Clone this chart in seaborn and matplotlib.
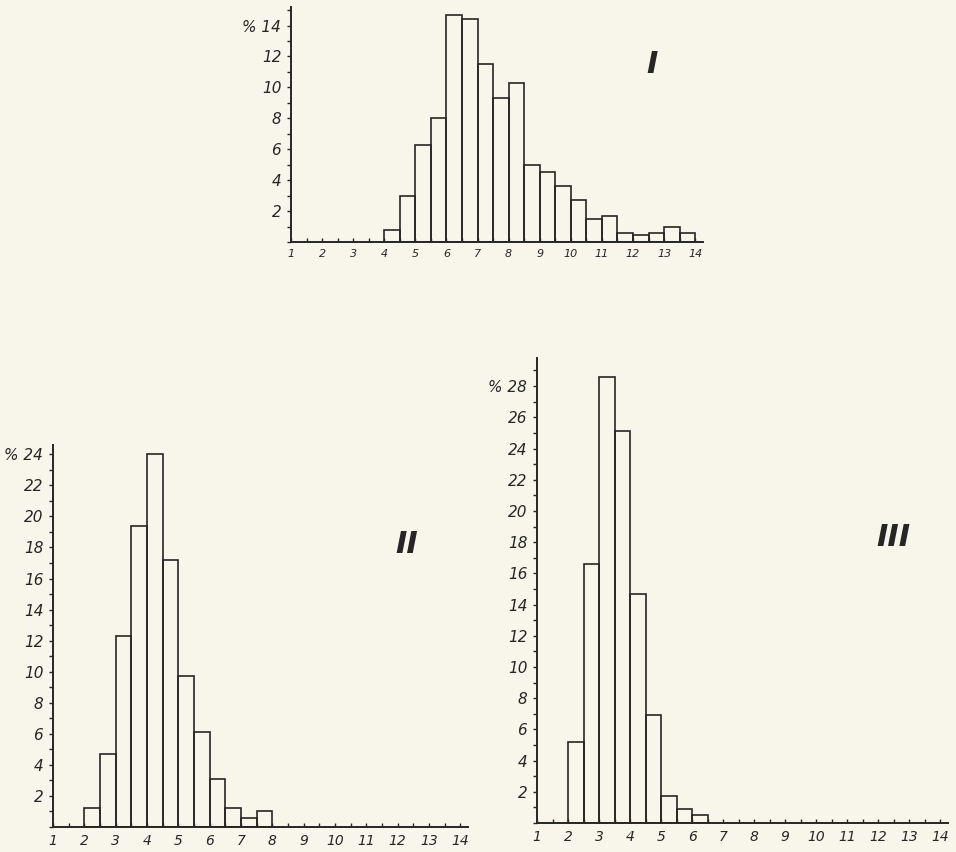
"""Redraw of the three size-class histograms (I, II, III) from the scanned plate."""

import matplotlib

matplotlib.use("Agg")

import matplotlib.pyplot as plt
import numpy as np
import pandas as pd
import seaborn as sns
from matplotlib.ticker import MultipleLocator


# class boundaries (half-unit classes) and percentage per class
EDGES_I = np.arange(4.0, 14.01, 0.5)
PCT_I = [0.8, 3.0, 6.3, 8.0, 14.7, 14.4, 11.5, 9.3, 10.3, 5.0,
         4.5, 3.6, 2.7, 1.5, 1.7, 0.6, 0.45, 0.55, 1.0, 0.55]

EDGES_II = np.arange(2.0, 8.01, 0.5)
PCT_II = [1.2, 4.7, 12.3, 19.4, 24.0, 17.2, 9.7, 6.1, 3.1, 1.2, 0.6, 1.0]

EDGES_III = np.arange(2.0, 6.51, 0.5)
PCT_III = [5.2, 16.6, 28.6, 25.1, 14.7, 6.9, 1.7, 0.9, 0.5]

X_TICKS = list(range(1, 15))
Y_TICKS_I = list(range(2, 15, 2))
Y_TICKS_II = list(range(2, 25, 2))
Y_TICKS_III = list(range(2, 29, 2))

PAPER = "#f8f6ea"
INK = "#262626"

FIG_W, FIG_H = 956, 852


def px_rect(left, top, right, bottom):
    """Axes rectangle from pixel corners of the scan."""
    return [left / FIG_W, 1 - bottom / FIG_H, (right - left) / FIG_W, (bottom - top) / FIG_H]


def draw_panel(ax, edges, pct, y_ticks, y_top, numeral, numeral_xy, x_size):
    df = pd.DataFrame({"size": edges[:-1] + 0.25, "pct": pct})
    sns.histplot(
        data=df,
        x="size",
        weights="pct",
        bins=edges.tolist(),
        ax=ax,
        fill=True,
        facecolor="none",
        edgecolor=INK,
        linewidth=1.2,
    )

    ax.set_xlim(1, 14.25)
    ax.set_ylim(0, y_top)
    ax.set_facecolor("none")
    sns.despine(ax=ax)
    for side in ("left", "bottom"):
        ax.spines[side].set_color(INK)
        ax.spines[side].set_linewidth(1.4)

    ax.set_xticks(X_TICKS, [str(t) for t in X_TICKS], fontstyle="italic",
                  fontsize=x_size, color=INK)
    ax.xaxis.set_minor_locator(MultipleLocator(0.5))
    y_labels = [str(t) for t in y_ticks]
    y_labels[-1] = "% " + y_labels[-1]
    ax.set_yticks(y_ticks, y_labels, fontstyle="italic", fontsize=11, color=INK)
    ax.yaxis.set_minor_locator(MultipleLocator(1))

    ax.tick_params(axis="x", which="both", bottom=True, direction="in",
                   length=3, width=1, color=INK, pad=5)
    ax.tick_params(axis="y", which="both", left=True, direction="out",
                   length=3, width=1, color=INK, pad=4)
    ax.set_xlabel("")
    ax.set_ylabel("")

    ax.text(numeral_xy[0], numeral_xy[1], numeral, fontsize=22, fontweight="bold",
            fontstyle="italic", color=INK, ha="center", va="center")


def main():
    sns.set_style("white")
    plt.rcParams["font.family"] = ["DejaVu Sans"]

    fig = plt.figure(figsize=(FIG_W / 100, FIG_H / 100), dpi=100)
    fig.patch.set_facecolor(PAPER)

    ax_i = fig.add_axes(px_rect(291, 7, 703, 242))
    draw_panel(ax_i, EDGES_I, PCT_I, Y_TICKS_I, 15.2, "I", (12.6, 11.5), 8)

    ax_ii = fig.add_axes(px_rect(53, 445, 468, 827))
    draw_panel(ax_ii, EDGES_II, PCT_II, Y_TICKS_II, 24.6, "II", (12.3, 18.2), 10)

    ax_iii = fig.add_axes(px_rect(537, 358, 948, 823))
    draw_panel(ax_iii, EDGES_III, PCT_III, Y_TICKS_III, 29.8, "III", (12.5, 18.3), 10)

    fig.savefig("out.png", dpi=100, facecolor=PAPER)
    plt.close(fig)


if __name__ == "__main__":
    main()
